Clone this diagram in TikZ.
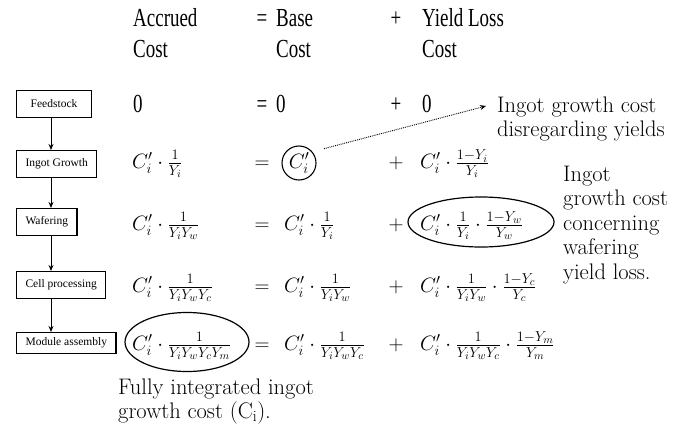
\documentclass[tikz,border=0pt]{standalone}
\usepackage{fontspec}
\newfontfamily\hdrfont[FakeStretch=0.73]{Liberation Serif}
\newfontfamily\boxfont{Liberation Serif}
\usetikzlibrary{arrows.meta,shapes.geometric}
\newcommand{\stackl}[1]{\vtop{\halign{##\hfil\cr#1\crcr}}}
\tikzset{
  hdr/.style={font=\hdrfont\fontsize{26}{31}\selectfont, inner sep=0pt, anchor=base west},
  hdrop/.style={font=\hdrfont\fontsize{26}{31}\selectfont, inner sep=0pt, anchor=base},
  fm/.style={font=\fontsize{21}{25}\selectfont, inner sep=0pt, anchor=base west},
  op/.style={font=\fontsize{21}{25}\selectfont, inner sep=0pt, anchor=base},
  stage/.style={draw, line width=1.1pt, font=\boxfont\fontsize{11.5}{13}\selectfont, inner xsep=9pt, inner ysep=0pt, minimum height=27pt, anchor=west},
  flow/.style={line width=0.9pt, -{Stealth[length=6pt,width=5pt]}},
  oval/.style={draw, ellipse, line width=1.2pt, inner sep=0pt},
  note/.style={font=\fontsize{22.5}{24.5}\selectfont, inner sep=0pt, anchor=base west},
  pointer/.style={densely dotted, line width=0.9pt, -{Stealth[length=6pt,width=5pt]}}
}
\begin{document}
\begin{tikzpicture}[x=1pt,y=-1pt]
\useasboundingbox (0,0) rectangle (684,428);
% header
\node[hdr] (hacc) at (133,27) {\stackl{Accrued\cr Cost}};
\node[hdrop] (heq) at (262,27) {=};
\node[hdr] (hbase) at (276,27) {\stackl{Base\cr Cost}};
\node[hdrop] (hplus) at (396,27) {+};
\node[hdr] (hyl) at (422,27) {\stackl{Yield Loss\cr Cost}};
% stages
\node[stage, minimum width=75pt] (feed) at (16,104) {Feedstock};
\node[stage] (ingot) at (16,164) {Ingot Growth};
\node[stage] (wafer) at (16,222) {Wafering};
\node[stage] (cell) at (16,285) {Cell processing};
\node[stage, minimum height=21pt, minimum width=98pt] (module) at (16,343) {Module assembly};
\coordinate (ax) at (51,0);
\draw[flow] (feed.south -| ax) -- (ingot.north -| ax);
\draw[flow] (ingot.south -| ax) -- (wafer.north -| ax);
\draw[flow] (wafer.south -| ax) -- (cell.north -| ax);
\draw[flow] (cell.south -| ax) -- (module.north -| ax);
% row 0
\node[hdr] (r0a) at (133,112) {0};
\node[hdrop] (r0e) at (262,112) {=};
\node[hdr] (r0b) at (276,112) {0};
\node[hdrop] (r0p) at (396,112) {+};
\node[hdr] (r0c) at (422,112) {0};
% row ingot
\node[fm] (r1a) at (132,168) {$C_i'\cdot\frac{1}{Y_i}$};
\node[op] (r1e) at (262,168) {$=$};
\node[draw, circle, line width=1.1pt, inner sep=0pt, minimum size=34pt, font=\fontsize{21}{25}\selectfont] (ci) at (299,163) {$C_i'$};
\node[op] (r1p) at (396,168) {$+$};
\node[fm] (r1c) at (420,168) {$C_i'\cdot\frac{1-Y_i}{Y_i}$};
% row wafering
\node[fm] (r2a) at (132,230) {$C_i'\cdot\frac{1}{Y_iY_w}$};
\node[op] (r2e) at (262,230) {$=$};
\node[fm] (r2b) at (284,230) {$C_i'\cdot\frac{1}{Y_i}$};
\node[op] (r2p) at (396,230) {$+$};
\node[fm] (r2c) at (420,230) {$C_i'\cdot\frac{1}{Y_i}\cdot\frac{1-Y_w}{Y_w}$};
\node[oval, minimum width=146pt, minimum height=50pt] (wfoval) at (481,222) {};
% row cell
\node[fm] (r3a) at (132,292) {$C_i'\cdot\frac{1}{Y_iY_wY_c}$};
\node[op] (r3e) at (262,292) {$=$};
\node[fm] (r3b) at (284,292) {$C_i'\cdot\frac{1}{Y_iY_w}$};
\node[op] (r3p) at (396,292) {$+$};
\node[fm] (r3c) at (420,292) {$C_i'\cdot\frac{1}{Y_iY_w}\cdot\frac{1-Y_c}{Y_c}$};
% row module
\node[fm] (r4a) at (132,350) {$C_i'\cdot\frac{1}{Y_iY_wY_cY_m}$};
\node[oval, minimum width=124pt, minimum height=59pt] (modoval) at (187,342) {};
\node[op] (r4e) at (262,350) {$=$};
\node[fm] (r4b) at (284,350) {$C_i'\cdot\frac{1}{Y_iY_wY_c}$};
\node[op] (r4p) at (396,350) {$+$};
\node[fm] (r4c) at (420,350) {$C_i'\cdot\frac{1}{Y_iY_wY_c}\cdot\frac{1-Y_m}{Y_m}$};
% notes
\node[note] (n1) at (497,112) {\stackl{Ingot growth cost\cr disregarding yields}};
\coordinate (tip) at (486,106);
\draw[pointer, shorten <=12pt] (ci.40) -- (tip);
\node[note] (n2) at (563,181) {\stackl{Ingot\cr growth cost\cr concerning\cr wafering\cr yield loss.}};
\node[note] (n3) at (118,394) {\stackl{Fully integrated ingot\cr growth cost (C\textsubscript{i}).}};
\end{tikzpicture}
\end{document}
